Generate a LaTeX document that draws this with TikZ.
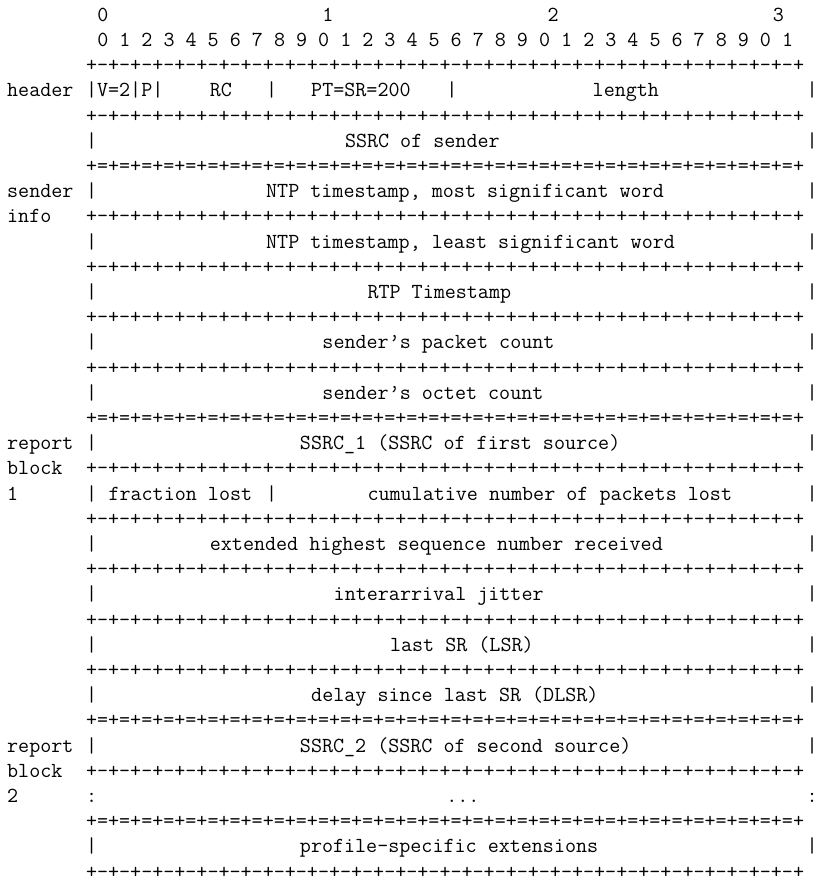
\documentclass[tikz,border=0pt]{standalone}
\usepackage{fontspec}
\frenchspacing
\tikzset{
  txt/.style={anchor=base west, inner sep=0pt, outer sep=0pt,
    font=\ttfamily\fontsize{21.45}{25}\selectfont}
}
% place text #3 at column #1, row #2 of the character grid
\newcommand\pc[3]{\node[txt] (c#1r#2) at ({7.2pt+#1*11.26pt},{-21.2pt-#2*25.2pt}) {#3};}
\newcommand\dd{+-+-+-+-}
\newcommand\ee{+=+=+=+=}
\newcommand\dashline{\dd\dd\dd\dd\dd\dd\dd\dd+}
\newcommand\eqline{\ee\ee\ee\ee\ee\ee\ee\ee+}
\newcommand\fieldrow[3]{\pc{7}{#1}{|}\pc{#2}{#1}{#3}\pc{71}{#1}{|}}
\begin{document}
\begin{tikzpicture}
\useasboundingbox (0,0) rectangle (819pt,-880pt);
\fill[white] (0,0) rectangle (819pt,-880pt);
% bit ruler
\pc{8}{0}{0}\pc{28}{0}{1}\pc{48}{0}{2}\pc{68}{0}{3}
\pc{8}{1}{0 1 2 3 4 5 6 7 8 9 0 1 2 3 4 5 6 7 8 9 0 1 2 3 4 5 6 7 8 9 0 1}
\pc{7}{2}{\dashline}
% header
\pc{0}{3}{header}
\pc{7}{3}{|V=2|P|}\pc{18}{3}{RC}\pc{23}{3}{|}\pc{27}{3}{PT=SR=200}\pc{39}{3}{|}\pc{52}{3}{length}\pc{71}{3}{|}
\pc{7}{4}{\dashline}
\fieldrow{5}{30}{SSRC of sender}
\pc{7}{6}{\eqline}
% sender info
\pc{0}{7}{sender}
\fieldrow{7}{23}{NTP timestamp, most significant word}
\pc{0}{8}{info}
\pc{7}{8}{\dashline}
\fieldrow{9}{23}{NTP timestamp, least significant word}
\pc{7}{10}{\dashline}
\fieldrow{11}{32}{RTP Timestamp}
\pc{7}{12}{\dashline}
\fieldrow{13}{28}{sender’s packet count}
\pc{7}{14}{\dashline}
\fieldrow{15}{28}{sender’s octet count}
\pc{7}{16}{\eqline}
% report block 1
\pc{0}{17}{report}
\fieldrow{17}{26}{SSRC\_1 (SSRC of first source)}
\pc{0}{18}{block}
\pc{7}{18}{\dashline}
\pc{0}{19}{1}
\pc{9}{19}{fraction lost}\pc{23}{19}{|}
\fieldrow{19}{32}{cumulative number of packets lost}
\pc{7}{20}{\dashline}
\fieldrow{21}{18}{extended highest sequence number received}
\pc{7}{22}{\dashline}
\fieldrow{23}{29}{interarrival jitter}
\pc{7}{24}{\dashline}
\fieldrow{25}{34}{last SR (LSR)}
\pc{7}{26}{\dashline}
\fieldrow{27}{27}{delay since last SR (DLSR)}
\pc{7}{28}{\eqline}
% report block 2
\pc{0}{29}{report}
\fieldrow{29}{26}{SSRC\_2 (SSRC of second source)}
\pc{0}{30}{block}
\pc{7}{30}{\dashline}
\pc{0}{31}{2}
\pc{7}{31}{:}\pc{39}{31}{...}\pc{71}{31}{:}
\pc{7}{32}{\eqline}
% profile-specific extensions
\fieldrow{33}{26}{profile-specific extensions}
\pc{7}{34}{\dashline}
\end{tikzpicture}
\end{document}
